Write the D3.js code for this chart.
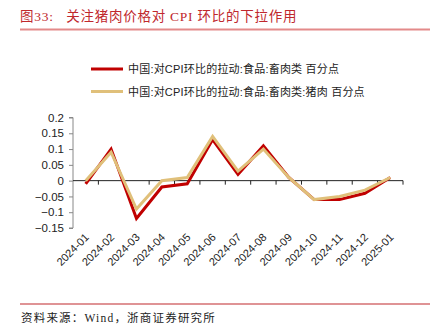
<!DOCTYPE html>
<html><head><meta charset="utf-8">
<script src="https://cdn.jsdelivr.net/npm/d3@7"></script>
<style>body{margin:0;background:#fff}svg{display:block}</style>
</head><body>
<svg id="c" width="441" height="332"></svg>
<script>
const categories = ["2024-01","2024-02","2024-03","2024-04","2024-05","2024-06","2024-07","2024-08","2024-09","2024-10","2024-11","2024-12","2025-01"];
const livestockMeat = [-0.01,0.10,-0.12,-0.02,-0.01,0.13,0.02,0.11,0.01,-0.06,-0.06,-0.04,0.01];
const pork = [0.00,0.09,-0.09,0.00,0.01,0.14,0.03,0.10,0.01,-0.06,-0.05,-0.03,0.01];
const yTicks = [0.2,0.15,0.1,0.05,0,-0.05,-0.1,-0.15];
const seriesNames = ["中国:对CPI环比的拉动:食品:畜肉类 百分点","中国:对CPI环比的拉动:食品:畜肉类:猪肉 百分点"];
const colors = ["#c00000","#e0c07a"];

const svg = d3.select("#c");
const serif = "'Liberation Serif','Noto Sans CJK SC',serif";
const sans = "'Liberation Sans',Arial,'Noto Sans CJK SC',sans-serif";

// title
svg.append("text").attr("x",20).attr("y",21).attr("fill","#c0282d")
  .attr("font-family",serif).attr("font-size",13.5).attr("letter-spacing",0.75)
  .text("图33:\u00a0\u00a0\u00a0关注猪肉价格对 CPI 环比的下拉作用");
svg.append("line").attr("x1",20).attr("x2",430).attr("y1",29.5).attr("y2",29.5)
  .attr("stroke","#e38a8a").attr("stroke-width",2);

// footer
svg.append("line").attr("x1",20).attr("x2",430).attr("y1",304).attr("y2",304)
  .attr("stroke","#c0282d").attr("stroke-width",1.2);
svg.append("text").attr("x",21).attr("y",322).attr("fill","#222")
  .attr("font-family",serif).attr("font-size",11.5).attr("letter-spacing",1.2)
  .text("资料来源：Wind，浙商证券研究所");

// legend
seriesNames.forEach((n,i)=>{
  const y = 69 + i*22.5;
  svg.append("line").attr("x1",91).attr("x2",123).attr("y1",y).attr("y2",y)
    .attr("stroke",colors[i]).attr("stroke-width",3);
  svg.append("text").attr("x",128).attr("y",y+4).attr("font-family",sans)
    .attr("font-size",11).attr("letter-spacing",0.2).attr("fill","#222").text(n);
});

const x = d3.scaleBand().domain(categories).range([73,403]);
const y = d3.scaleLinear().domain([-0.15,0.2]).range([228,117.5]);

// y axis
const ya = svg.append("g").attr("transform","translate(73,0)")
  .call(d3.axisLeft(y).tickValues(yTicks).tickSize(4).tickFormat(d=>d3.format("")(+d.toFixed(2))));
ya.select(".domain").attr("stroke","#888").attr("d","M-4,117.5H0V228H-4");
ya.selectAll(".tick line").attr("stroke","#888");
ya.selectAll("text").attr("font-family",sans).attr("font-size",11.5).attr("fill","#222").attr("dx",-2);

// x axis at zero
const xa = svg.append("g").attr("transform",`translate(0,${y(0)})`)
  .call(d3.axisBottom(x).tickSize(0).tickFormat(""));
xa.select(".domain").attr("stroke","#222").attr("d","M73,0H403");
xa.selectAll(".tick").remove();
const tickPos = categories.map(c=>x(c)+x.bandwidth());
xa.selectAll(".xt").data(tickPos).enter().append("line")
  .attr("x1",d=>d).attr("x2",d=>d).attr("y1",0).attr("y2",4).attr("stroke","#222");

// x labels
svg.append("g").selectAll("text").data(categories).enter().append("text")
  .attr("transform",d=>`translate(${x(d)+x.bandwidth()/2+4},238) rotate(-45)`)
  .attr("text-anchor","end").attr("font-family",sans).attr("font-size",11).attr("fill","#222")
  .text(d=>d);

// lines
const line = d3.line().x((d,i)=>x(categories[i])+x.bandwidth()/2).y(d=>y(d));
[livestockMeat,pork].forEach((s,i)=>{
  svg.append("path").datum(s).attr("d",line).attr("fill","none")
    .attr("stroke",colors[i]).attr("stroke-width",3).attr("stroke-linejoin","miter");
});
</script>
</body></html>
